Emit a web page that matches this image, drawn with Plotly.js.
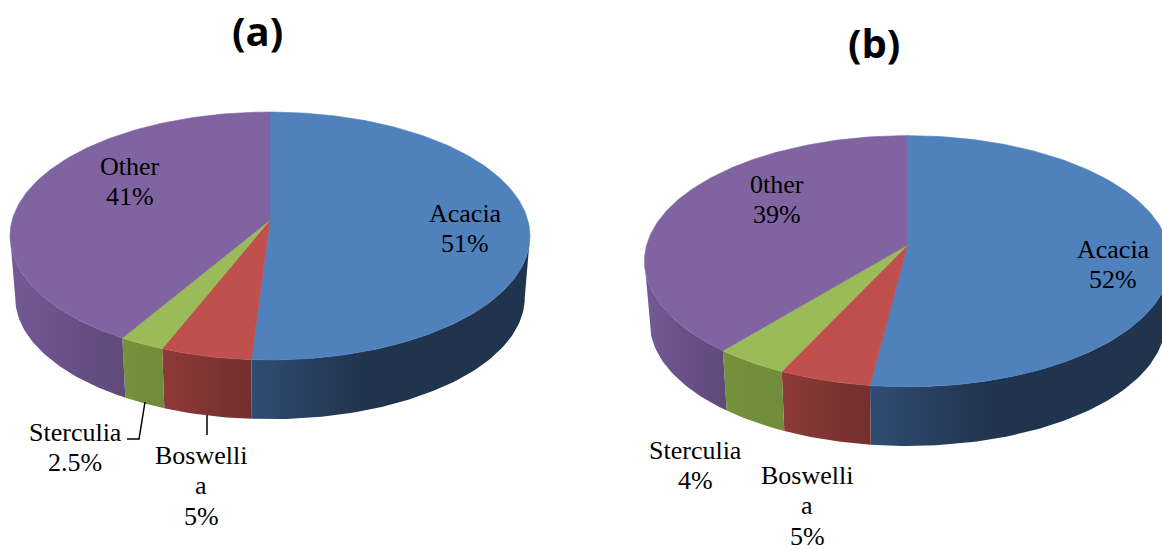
<!DOCTYPE html>
<html>
<head>
<meta charset="utf-8">
<script src="https://cdn.plot.ly/plotly-3.0.1.min.js"></script>
<style>html,body{margin:0;padding:0;background:#fff;overflow:hidden}</style>
</head>
<body>
<div id="chart" style="width:1162px;height:550px"></div>
<script>
// Gum sources, share of each genus in percent
const valuesA = [51, 5, 2.5, 41];
const valuesB = [52, 5, 4, 39];

// Label text, one entry per slice and one row per drawn line
const rowsA = [['Acacia', '51%'], ['Boswelli', 'a', '5%'], ['Sterculia', '2.5%'], ['Other', '41%']];
const rowsB = [['Acacia', '52%'], ['Boswelli', 'a', '5%'], ['Sterculia', '4%'], ['0ther', '39%']];

// Top-face colours and the shaded side-wall ramps, left to right
const topColors = ['#4f81bd', '#c0504d', '#9bbb59', '#8064a2'];
const wallRamps = [
  [[0, '#2f4d73'], [0.12, '#2b4567'], [0.4, '#20344e'], [1, '#20344e']],
  [[0, '#8d3a37'], [1, '#722f2e']],
  [[0, '#76923c'], [1, '#708b3a']],
  [[0, '#735a95'], [0.55, '#684f88'], [1, '#5f4a78']]
];

// Drum geometry in page pixels; the axes below run 1:1 with the page
const panelA = {cx: 270, cy: 220, a: 257.8, b: 121.9, k: 0.129, drop: 62, shrink: 0.98};
const panelB = {cx: 907.5, cy: 245, a: 260.8, b: 123.5, k: 0.129, drop: 62, shrink: 0.98};

// Perspective projection of a rim point; deg runs clockwise from 12 o'clock
function rim(p, deg, lower) {
  const r = deg * Math.PI / 180, s = Math.sin(r), c = Math.cos(r), w = 1 + p.k * c;
  const x = p.a * s / w, y = p.b * c / w;
  return lower
    ? [p.cx + x * p.shrink, p.cy - y * p.shrink + p.drop]
    : [p.cx + x, p.cy - y];
}

function arc(p, from, to, lower) {
  const n = Math.max(2, Math.ceil(Math.abs(to - from)));
  const pts = [];
  for (let i = 0; i <= n; i++) pts.push(rim(p, from + (to - from) * i / n, lower));
  return pts;
}

function poly(pts, extra) {
  return Object.assign({
    x: pts.map(q => q[0]), y: pts.map(q => q[1]),
    type: 'scatter', mode: 'lines', fill: 'toself', hoverinfo: 'skip', showlegend: false
  }, extra);
}

// Each slice spans its percentage of the circle; the last one closes the rim
function drum(p, values) {
  const front = Math.acos(-p.k) * 180 / Math.PI;
  const walls = [], tops = [];
  let start = 0;
  values.forEach((v, i) => {
    const end = i === values.length - 1 ? 360 : start + v / 100 * 360;
    const from = Math.max(start, front), to = Math.min(end, 360 - front);
    if (to > from) {
      const pts = arc(p, from, to, false).concat(arc(p, to, from, true));
      walls.push(poly(pts, {
        line: {width: 0, color: wallRamps[i][0][1]},
        fillgradient: {type: 'horizontal', colorscale: wallRamps[i]}
      }));
    }
    const pts = [[p.cx, p.cy]].concat(arc(p, start, end, false)).concat([[p.cx, p.cy]]);
    tops.push(poly(pts, {fillcolor: topColors[i], line: {width: 0.6, color: topColors[i]}}));
    start = end;
  });
  return walls.concat(tops);
}

// Leader lines from the two small slices of the first drum
const leaders = [
  {x: [145, 139, 127], y: [402, 439, 439]},
  {x: [207, 207], y: [415, 435]}
].map(l => ({x: l.x, y: l.y, type: 'scatter', mode: 'lines', hoverinfo: 'skip', showlegend: false,
             line: {color: '#000', width: 1.5}}));

// Anchor of the first row of each label and the row spacing
const rowGap = 30.5;
const anchorsA = [[465, 213], [201, 455], [75, 432], [130, 166]];
const anchorsB = [[1113, 249], [807, 475], [695, 450], [777, 184]];

function labelNotes(rows, anchors) {
  const notes = [];
  rows.forEach((row, i) => row.forEach((text, j) => notes.push({
    x: anchors[i][0], y: anchors[i][1] + j * rowGap, xref: 'x', yref: 'y', text,
    showarrow: false, xanchor: 'center', yanchor: 'middle',
    font: {family: '"Liberation Serif", serif', size: 26, color: '#000'}
  })));
  return notes;
}

function heading(text, x, y) {
  return {x, y, xref: 'x', yref: 'y', text: '<b>' + text + '</b>', showarrow: false,
          xanchor: 'center', yanchor: 'middle',
          font: {family: '"Open Sans", sans-serif', size: 40, color: '#000'}};
}

const hidden = {visible: false, fixedrange: true};
Plotly.newPlot('chart',
  drum(panelA, valuesA).concat(drum(panelB, valuesB), leaders),
  {
    width: 1162, height: 550,
    margin: {l: 0, r: 0, t: 0, b: 0},
    paper_bgcolor: '#fff', plot_bgcolor: '#fff',
    xaxis: Object.assign({range: [0, 1162]}, hidden),
    yaxis: Object.assign({range: [550, 0]}, hidden),
    annotations: labelNotes(rowsA, anchorsA).concat(
      labelNotes(rowsB, anchorsB),
      [heading('(a)', 257, 30), heading('(b)', 874, 42)])
  },
  {displayModeBar: false, staticPlot: true});
</script>
</body>
</html>
